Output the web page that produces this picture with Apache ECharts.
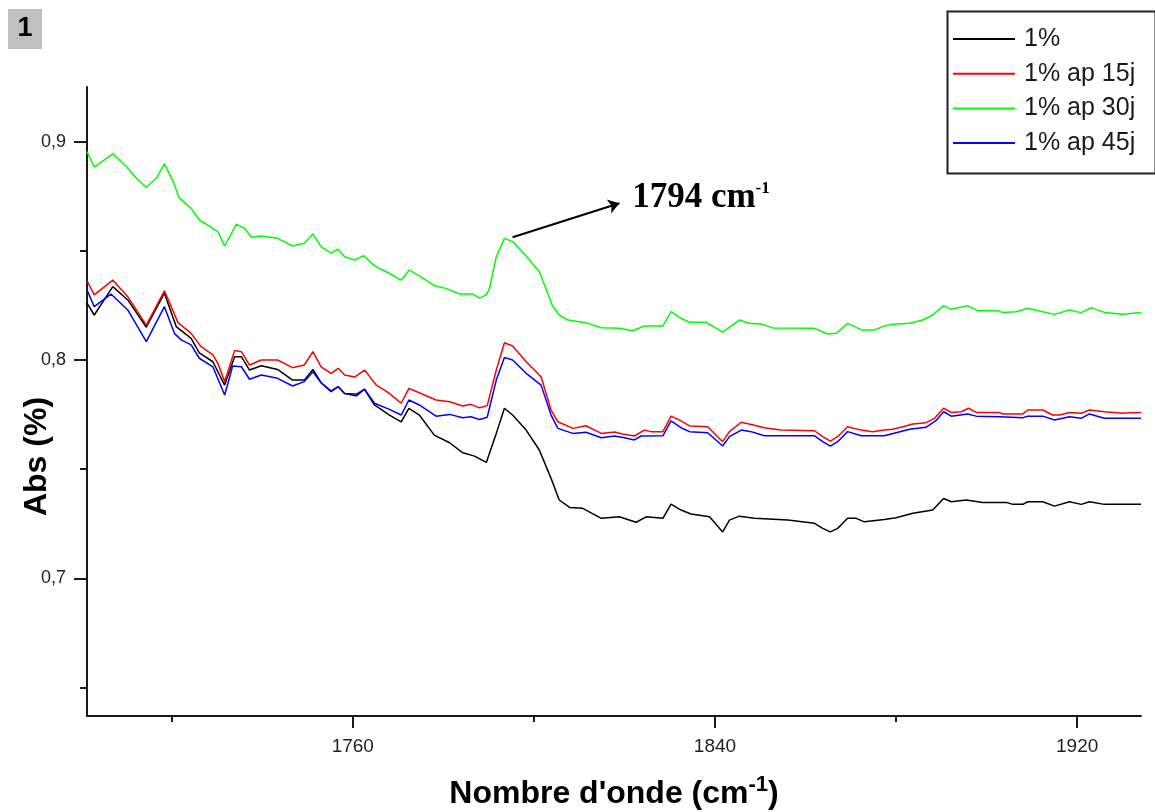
<!DOCTYPE html>
<html>
<head>
<meta charset="utf-8">
<script src="https://cdn.jsdelivr.net/npm/echarts@6/dist/echarts.min.js"></script>
<style>
  html, body { margin: 0; padding: 0; background: #ffffff; }
  #chart { width: 1155px; height: 812px; }
</style>
</head>
<body>
<div id="chart"></div>
<script>
// FTIR absorbance spectra, 1700-1935 cm-1 region
const seriesNames = ['1%', '1% ap 15j', '1% ap 30j', '1% ap 45j'];
const seriesColors = ['#000000', '#ff0000', '#00ff00', '#0000ff'];

// 1%
const xBlack = [1701.3,1702.9,1707.0,1710.3,1714.4,1718.4,1721.0,1724.3,1726.1,1729.1,
  1731.7,1733.9,1735.4,1737.2,1739.8,1743.4,1746.7,1749.3,1751.2,1753.0,
  1755.2,1756.8,1758.2,1760.8,1762.6,1764.8,1768.1,1770.7,1772.4,1774.7,
  1778.0,1781.4,1784.3,1786.9,1789.5,1791.7,1793.5,1795.3,1798.3,1801.2,
  1803.8,1805.6,1807.9,1810.8,1814.9,1818.9,1820.7,1822.6,1824.8,1828.5,
  1830.3,1832.5,1834.7,1838.8,1841.7,1843.2,1845.4,1848.7,1856.1,1862.0,
  1863.8,1865.5,1867.1,1869.3,1871.2,1873.0,1877.4,1880.0,1883.7,1888.1,
  1890.5,1892.2,1895.5,1899.1,1904.3,1905.8,1908.0,1909.1,1912.4,1915.0,
  1918.3,1920.9,1922.7,1926.0,1934.1];
const yBlack = [0.8260,0.8206,0.8336,0.8275,0.8150,0.8306,0.8153,0.8099,0.8033,0.7992,
  0.7885,0.8015,0.8015,0.7954,0.7974,0.7957,0.7908,0.7908,0.7957,0.7896,
  0.7855,0.7878,0.7847,0.7836,0.7866,0.7794,0.7748,0.7717,0.7779,0.7748,
  0.7656,0.7621,0.7575,0.7560,0.7531,0.7664,0.7779,0.7748,0.7679,0.7588,
  0.7458,0.7359,0.7325,0.7321,0.7275,0.7282,0.7270,0.7257,0.7282,0.7275,
  0.7340,0.7313,0.7295,0.7282,0.7213,0.7267,0.7285,0.7275,0.7267,0.7252,
  0.7229,0.7213,0.7229,0.7275,0.7275,0.7259,0.7270,0.7278,0.7298,0.7313,
  0.7366,0.7351,0.7359,0.7348,0.7348,0.7339,0.7339,0.7351,0.7351,0.7331,
  0.7351,0.7339,0.7351,0.7339,0.7339];

// 1% ap 15j
const xRed = [1701.3,1702.9,1707.0,1710.3,1714.4,1718.4,1721.4,1724.3,1726.5,1729.1,
  1730.2,1731.7,1733.9,1735.4,1737.2,1739.8,1743.4,1746.7,1749.3,1751.2,
  1753.0,1755.2,1756.8,1758.2,1760.4,1762.6,1765.2,1768.1,1770.7,1772.4,
  1774.7,1778.4,1781.4,1784.3,1786.1,1788.0,1789.7,1791.7,1793.5,1795.3,
  1798.3,1801.6,1803.8,1805.3,1808.6,1811.5,1814.9,1817.8,1819.6,1822.2,
  1824.4,1825.9,1828.5,1830.3,1832.2,1834.4,1838.4,1841.7,1843.2,1845.8,
  1848.0,1850.9,1854.6,1862.0,1863.8,1865.5,1867.1,1869.3,1872.3,1874.8,
  1877.4,1879.3,1881.5,1883.7,1886.6,1888.5,1890.5,1892.2,1894.4,1896.0,
  1897.7,1902.8,1903.6,1908.0,1909.1,1912.4,1914.6,1916.1,1918.3,1920.9,
  1922.7,1926.0,1930.1,1931.5,1934.1];
const yRed = [0.8363,0.8298,0.8366,0.8290,0.8160,0.8317,0.8171,0.8122,0.8061,0.8023,
  0.7985,0.7901,0.8043,0.8038,0.7977,0.8000,0.8000,0.7965,0.7977,0.8038,
  0.7969,0.7939,0.7962,0.7931,0.7922,0.7954,0.7885,0.7847,0.7802,0.7870,
  0.7850,0.7817,0.7809,0.7789,0.7797,0.7781,0.7791,0.7954,0.8079,0.8064,
  0.7992,0.7923,0.7771,0.7717,0.7687,0.7699,0.7664,0.7670,0.7661,0.7652,
  0.7679,0.7672,0.7672,0.7743,0.7725,0.7698,0.7694,0.7626,0.7672,0.7715,
  0.7705,0.7690,0.7679,0.7676,0.7649,0.7629,0.7649,0.7694,0.7679,0.7672,
  0.7679,0.7683,0.7694,0.7707,0.7713,0.7733,0.7779,0.7760,0.7763,0.7779,
  0.7760,0.7760,0.7753,0.7753,0.7771,0.7771,0.7748,0.7748,0.7760,0.7756,
  0.7771,0.7763,0.7756,0.7759,0.7760];

// 1% ap 30j
const xGreen = [1701.3,1702.9,1707.0,1710.0,1712.2,1714.4,1716.6,1718.4,1720.2,1721.7,
  1724.3,1726.1,1729.1,1730.2,1731.7,1734.3,1736.1,1737.6,1739.8,1743.4,
  1746.7,1749.3,1751.2,1753.0,1755.2,1756.7,1758.2,1760.4,1762.4,1764.8,
  1767.4,1770.7,1772.5,1774.7,1778.0,1780.6,1783.6,1786.5,1788.0,1789.5,
  1790.2,1791.7,1793.5,1795.3,1797.5,1801.2,1804.2,1805.6,1807.5,1811.5,
  1814.9,1818.9,1821.8,1824.4,1828.5,1830.3,1832.5,1834.4,1838.0,1841.7,
  1845.4,1847.6,1850.2,1852.8,1862.0,1864.9,1866.8,1869.3,1872.6,1875.2,
  1877.4,1879.3,1883.0,1885.9,1888.1,1890.5,1892.2,1895.8,1898.0,1902.5,
  1903.6,1906.5,1909.1,1912.4,1915.0,1918.3,1920.9,1923.1,1926.0,1930.1,
  1934.1];
const yGreen = [0.8954,0.8883,0.8944,0.8885,0.8832,0.8791,0.8832,0.8898,0.8824,0.8741,
  0.8695,0.8641,0.8603,0.8588,0.8522,0.8622,0.8603,0.8562,0.8568,0.8557,
  0.8522,0.8535,0.8577,0.8519,0.8489,0.8507,0.8473,0.8458,0.8478,0.8431,
  0.8404,0.8366,0.8412,0.8385,0.8340,0.8328,0.8302,0.8302,0.8283,0.8298,
  0.8328,0.8473,0.8557,0.8542,0.8496,0.8404,0.8244,0.8206,0.8183,0.8171,
  0.8148,0.8145,0.8134,0.8156,0.8156,0.8221,0.8191,0.8173,0.8173,0.8128,
  0.8183,0.8168,0.8165,0.8147,0.8145,0.8119,0.8122,0.8168,0.8137,0.8137,
  0.8156,0.8164,0.8168,0.8183,0.8206,0.8249,0.8232,0.8249,0.8226,0.8226,
  0.8217,0.8221,0.8237,0.8221,0.8209,0.8229,0.8217,0.8240,0.8218,0.8209,
  0.8218];

// 1% ap 45j
const xBlue = [1701.3,1702.9,1706.6,1710.3,1714.4,1718.4,1720.6,1722.1,1724.3,1726.1,
  1729.1,1731.7,1733.5,1735.4,1737.2,1739.8,1743.4,1746.7,1749.3,1751.2,
  1753.0,1755.2,1756.8,1758.2,1760.8,1762.6,1764.8,1768.1,1770.7,1772.4,
  1774.7,1778.4,1781.4,1784.3,1786.1,1788.0,1789.7,1791.7,1793.5,1795.3,
  1798.3,1801.6,1803.8,1805.3,1808.6,1811.5,1814.9,1817.8,1820.0,1822.2,
  1823.7,1828.5,1830.3,1832.5,1834.4,1838.4,1841.7,1843.2,1845.8,1848.0,
  1850.9,1862.0,1863.8,1865.5,1867.1,1869.3,1872.3,1877.4,1880.0,1883.0,
  1886.6,1888.8,1890.5,1892.2,1895.8,1897.7,1902.8,1908.0,1909.1,1912.4,
  1915.0,1918.3,1920.9,1922.7,1926.0,1934.1];
const yBlue = [0.8321,0.8244,0.8302,0.8229,0.8084,0.8244,0.8122,0.8092,0.8069,0.8008,
  0.7969,0.7840,0.7973,0.7969,0.7912,0.7931,0.7916,0.7881,0.7901,0.7946,
  0.7896,0.7859,0.7878,0.7847,0.7844,0.7866,0.7802,0.7774,0.7748,0.7817,
  0.7794,0.7743,0.7751,0.7736,0.7740,0.7728,0.7738,0.7908,0.8012,0.8000,
  0.7939,0.7885,0.7748,0.7687,0.7664,0.7669,0.7644,0.7652,0.7644,0.7634,
  0.7652,0.7653,0.7721,0.7690,0.7672,0.7667,0.7606,0.7649,0.7679,0.7672,
  0.7653,0.7653,0.7626,0.7606,0.7626,0.7672,0.7653,0.7653,0.7667,0.7683,
  0.7692,0.7722,0.7763,0.7743,0.7753,0.7743,0.7740,0.7736,0.7743,0.7743,
  0.7725,0.7740,0.7733,0.7753,0.7733,0.7733];

// axis ticks
const xMajorTicks = [1760, 1840, 1920];
const xMinorTicks = [1720, 1800, 1880];
const yMajorTicks = [0.7, 0.8, 0.9];
const yMinorTicks = [0.65, 0.75, 0.85];
const xRange = [1701.3, 1934.1];
const yRange = [0.637, 0.925];

// peak annotation: arrow start/end and label anchor in data units
const peakLabel = '1794 cm';
const peakArrowFrom = [1795.3, 0.8562];
const peakArrowTo = [1818.9, 0.8718];
const peakLabelAt = [1821.6, 0.8742];

const xs = [xBlack, xRed, xGreen, xBlue];
const ys = [yBlack, yRed, yGreen, yBlue];

const AXIS_COLOR = '#1a1a1a';
const SANS = 'Liberation Sans, Arial, sans-serif';

function pairs(x, y) { return x.map((v, i) => [v, y[i]]); }

const series = seriesNames.map((name, i) => {
  const s = {
    name: name,
    type: 'line',
    xAxisIndex: 0,
    yAxisIndex: 0,
    data: pairs(xs[i], ys[i]),
    showSymbol: false,
    symbol: 'none',
    color: seriesColors[i],
    lineStyle: { color: seriesColors[i], width: 1.5 },
    silent: true
  };
  if (i === 2) {
    s.markLine = {
      silent: true,
      symbol: ['none', 'arrow'],
      symbolSize: 11,
      lineStyle: { color: '#000', width: 2, type: 'solid' },
      label: { show: false },
      data: [[{ coord: peakArrowFrom }, { coord: peakArrowTo }]]
    };
    s.markPoint = {
      silent: true,
      symbol: 'circle',
      symbolSize: 1,
      itemStyle: { color: 'rgba(0,0,0,0)' },
      label: {
        show: true,
        position: 'right',
        distance: 0,
        color: '#000',
        formatter: '{n|' + peakLabel + '}{s|-1}',
        rich: {
          n: { fontFamily: 'Liberation Serif, Times New Roman, serif', fontWeight: 'bold', fontSize: 35, lineHeight: 36, color: '#000' },
          s: { fontFamily: 'Liberation Serif, Times New Roman, serif', fontWeight: 'bold', fontSize: 17, lineHeight: 12, verticalAlign: 'top', color: '#000' }
        }
      },
      data: [{ coord: peakLabelAt }]
    };
  }
  return s;
});

const chart = echarts.init(document.getElementById('chart'), null, { renderer: 'canvas' });
chart.setOption({
  animation: false,
  backgroundColor: '#ffffff',
  grid: { left: 87, right: 14, top: 87, bottom: 96, containLabel: false, outerBoundsMode: 'none' },
  legend: {
    orient: 'vertical',
    left: 953,
    top: 24,
    padding: 0,
    itemGap: 4.7,
    itemWidth: 62,
    itemHeight: 2,
    icon: 'rect',
    selectedMode: false,
    data: seriesNames,
    textStyle: { fontFamily: SANS, fontSize: 25, color: '#1a1a1a', lineHeight: 30, padding: [0, 0, 0, 4] }
  },
  xAxis: [{
    type: 'value',
    min: xRange[0],
    max: xRange[1],
    position: 'bottom',
    axisLine: { show: true, onZero: false, lineStyle: { color: AXIS_COLOR, width: 2 } },
    axisTick: { show: true, customValues: xMajorTicks, length: 12, lineStyle: { color: AXIS_COLOR, width: 2 } },
    axisLabel: { show: true, customValues: xMajorTicks, margin: 21, fontFamily: SANS, fontSize: 19, color: '#222', formatter: v => String(v) },
    splitLine: { show: false },
    name: "{a|Nombre d'onde (cm}{s|-1}{a|)}",
    nameLocation: 'middle',
    nameGap: 58,
    nameMoveOverlap: false,
    nameTextStyle: {
      rich: {
        a: { fontFamily: SANS, fontWeight: 'bold', fontSize: 32, lineHeight: 40, color: '#000' },
        s: { fontFamily: SANS, fontWeight: 'bold', fontSize: 22, lineHeight: 10, verticalAlign: 'top', color: '#000' }
      }
    }
  }, {
    type: 'value',
    min: xRange[0],
    max: xRange[1],
    position: 'bottom',
    axisLine: { show: false },
    axisTick: { show: true, customValues: xMinorTicks, length: 6, lineStyle: { color: AXIS_COLOR, width: 2 } },
    axisLabel: { show: false },
    splitLine: { show: false }
  }],
  yAxis: [{
    type: 'value',
    min: yRange[0],
    max: yRange[1],
    position: 'left',
    axisLine: { show: true, onZero: false, lineStyle: { color: AXIS_COLOR, width: 2 } },
    axisTick: { show: true, customValues: yMajorTicks, length: 13, lineStyle: { color: AXIS_COLOR, width: 2 } },
    axisLabel: {
      show: true,
      customValues: yMajorTicks,
      margin: 21,
      fontFamily: SANS,
      fontSize: 18,
      color: '#222',
      formatter: v => v.toFixed(1).replace('.', ',')
    },
    splitLine: { show: false },
    name: 'Abs (%)',
    nameLocation: 'middle',
    nameRotate: 90,
    nameGap: 34,
    nameMoveOverlap: false,
    nameTextStyle: { fontFamily: SANS, fontWeight: 'bold', fontSize: 32, color: '#000', padding: [0, 110, 0, 0] }
  }, {
    type: 'value',
    min: yRange[0],
    max: yRange[1],
    position: 'left',
    axisLine: { show: false },
    axisTick: { show: true, customValues: yMinorTicks, length: 7, lineStyle: { color: AXIS_COLOR, width: 2 } },
    axisLabel: { show: false },
    splitLine: { show: false }
  }],
  graphic: [
    { type: 'rect', left: 8, top: 9, shape: { width: 34, height: 40 }, style: { fill: '#c0c0c0' }, silent: true },
    { type: 'text', x: 25, y: 29, style: { text: '1', font: 'bold 27px Liberation Sans, Arial, sans-serif', fill: '#000', align: 'center', verticalAlign: 'middle' }, silent: true },
    { type: 'rect', left: 945, top: 9, shape: { width: 208, height: 162 }, style: { fill: 'none', stroke: '#222', lineWidth: 2 }, silent: true }
  ],
  series: series
});
</script>
</body>
</html>
